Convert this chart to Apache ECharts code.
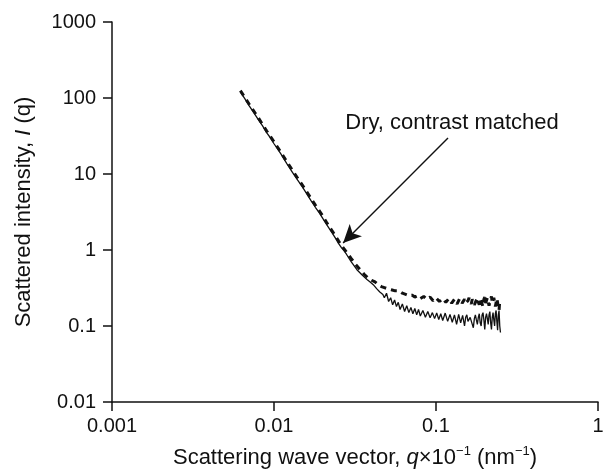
<!DOCTYPE html>
<html>
<head>
<meta charset="utf-8">
<title>Scattered intensity</title>
<script src="https://cdn.jsdelivr.net/npm/echarts@6/dist/echarts.min.js"></script>
<style>
  html, body { margin: 0; padding: 0; background: #fff; }
  #chart { width: 610px; height: 469px; }
</style>
</head>
<body>
<div id="chart"></div>
<script>
// tick labels
var xTicks = ['0.001', '0.01', '0.1', '1'];
var yTicks = ['0.01', '0.1', '1', '10', '100', '1000'];

// solid curve
var qSolid = [0.0062, 0.0066, 0.0070, 0.0075, 0.0080, 0.0085, 0.0090, 0.0095, 0.010, 0.011,
  0.012, 0.013, 0.014, 0.015, 0.016, 0.017, 0.018, 0.019, 0.020, 0.021,
  0.022, 0.023, 0.024, 0.025, 0.026, 0.027, 0.028, 0.029, 0.030, 0.0325,
  0.035, 0.0375, 0.0392, 0.041, 0.043, 0.045, 0.047, 0.048, 0.0495, 0.051,
  0.0525, 0.054, 0.0555, 0.057, 0.0585, 0.060, 0.062, 0.064, 0.066, 0.068,
  0.070, 0.072, 0.074, 0.076, 0.078, 0.080, 0.083, 0.086, 0.089, 0.092,
  0.095, 0.098, 0.101, 0.104, 0.107, 0.110, 0.114, 0.118, 0.122, 0.126,
  0.130, 0.134, 0.138, 0.142, 0.146,
  0.150, 0.1525, 0.155, 0.1575, 0.160, 0.1625, 0.165, 0.1675, 0.170, 0.1725,
  0.175, 0.1775, 0.180, 0.1825, 0.185, 0.1875, 0.190, 0.1925, 0.195, 0.1975,
  0.200, 0.2025, 0.205, 0.2075, 0.210, 0.2125, 0.215, 0.2175, 0.220, 0.2225,
  0.225, 0.2275, 0.230, 0.2325, 0.235, 0.2375, 0.240, 0.2425, 0.245, 0.2475, 0.250];
var iSolid = [120, 98, 80, 64, 52, 43, 35, 30, 25, 18.5,
  13.7, 10.5, 8.3, 6.7, 5.4, 4.4, 3.65, 3.1, 2.6, 2.2,
  1.9, 1.64, 1.42, 1.22, 1.08, 0.98, 0.88, 0.78, 0.70, 0.55,
  0.47, 0.41, 0.38, 0.35, 0.31, 0.28, 0.26, 0.235, 0.27, 0.21,
  0.235, 0.19, 0.22, 0.18, 0.205, 0.165, 0.195, 0.155, 0.185, 0.15,
  0.175, 0.145, 0.17, 0.14, 0.165, 0.135, 0.16, 0.13, 0.155, 0.128,
  0.15, 0.125, 0.148, 0.122, 0.145, 0.118, 0.148, 0.115, 0.142, 0.112,
  0.14, 0.105, 0.142, 0.11, 0.138,
  0.10, 0.13, 0.14, 0.115, 0.11, 0.13, 0.135, 0.105, 0.095, 0.125,
  0.14, 0.12, 0.105, 0.13, 0.145, 0.11, 0.10, 0.14, 0.15, 0.12,
  0.09, 0.13, 0.145, 0.125, 0.105, 0.14, 0.155, 0.11, 0.09, 0.13,
  0.15, 0.12, 0.10, 0.145, 0.16, 0.115, 0.088, 0.14, 0.16, 0.10, 0.082];

// dashed curve
var qDash = [0.0062, 0.0070, 0.0080, 0.0090, 0.010, 0.011, 0.012, 0.013, 0.014, 0.015,
  0.016, 0.017, 0.018, 0.019, 0.020, 0.021, 0.022, 0.023, 0.024, 0.025,
  0.026, 0.027, 0.028, 0.029, 0.030, 0.032, 0.034, 0.036, 0.038, 0.040,
  0.042, 0.044, 0.046, 0.048, 0.050, 0.053, 0.056, 0.059, 0.062, 0.065,
  0.068, 0.071, 0.074, 0.077, 0.080, 0.084, 0.088, 0.092, 0.096, 0.100,
  0.105, 0.110, 0.115, 0.120, 0.125, 0.130, 0.135, 0.140, 0.145,
  0.150, 0.1525, 0.155, 0.1575, 0.160, 0.1625, 0.165, 0.1675, 0.170, 0.1725,
  0.175, 0.1775, 0.180, 0.1825, 0.185, 0.1875, 0.190, 0.1925, 0.195, 0.1975,
  0.200, 0.2025, 0.205, 0.2075, 0.210, 0.2125, 0.215, 0.2175, 0.220, 0.2225,
  0.225, 0.2275, 0.230, 0.2325, 0.235, 0.2375, 0.240, 0.2425, 0.245, 0.2475, 0.250];
var iDash = [125, 84, 55, 37, 26.5, 19.5, 14.5, 11.2, 8.8, 7.1,
  5.75, 4.7, 3.9, 3.3, 2.8, 2.35, 2.0, 1.75, 1.52, 1.32,
  1.16, 1.04, 0.94, 0.85, 0.77, 0.64, 0.55, 0.48, 0.43, 0.40,
  0.38, 0.35, 0.33, 0.32, 0.31, 0.30, 0.29, 0.29, 0.27, 0.26,
  0.25, 0.255, 0.24, 0.25, 0.23, 0.245, 0.225, 0.24, 0.215, 0.235,
  0.21, 0.23, 0.205, 0.23, 0.20, 0.225, 0.195, 0.23, 0.20,
  0.225, 0.20, 0.19, 0.215, 0.235, 0.21, 0.195, 0.225, 0.22, 0.19,
  0.185, 0.22, 0.235, 0.205, 0.19, 0.225, 0.225, 0.195, 0.18, 0.225,
  0.24, 0.20, 0.19, 0.235, 0.23, 0.185, 0.175, 0.23, 0.245, 0.20,
  0.19, 0.235, 0.225, 0.18, 0.17, 0.23, 0.24, 0.18, 0.16, 0.215, 0.22];

// annotation
var noteText = 'Dry, contrast matched';
var notePos = [0.1256, 47];
var arrowFrom = [0.1186, 29.8];
var arrowTo = [0.0267, 1.24];

function pairs(xs, ys) {
  var out = [];
  for (var i = 0; i < xs.length; i++) out.push([xs[i], ys[i]]);
  return out;
}

var font = 'Liberation Sans, Arial, Helvetica, sans-serif';
var ink = '#111';

var chart = echarts.init(document.getElementById('chart'));
var option = {
  backgroundColor: '#fff',
  animation: false,
  textStyle: { fontFamily: font, color: ink },
  grid: { left: 112, right: 12, top: 22, bottom: 67, containLabel: false, outerBoundsMode: 'none' },
  xAxis: {
    type: 'log',
    logBase: 10,
    min: 0.001,
    max: 1,
    name: '{n|Scattering wave vector, }{i|q}{n|×10}{s|−1}{n| (nm}{s|−1}{n|)}',
    nameLocation: 'middle',
    nameGap: 43,
    nameTextStyle: {
      rich: {
        n: { fontSize: 22, lineHeight: 26, color: ink, fontFamily: font },
        i: { fontSize: 22, lineHeight: 26, color: ink, fontFamily: font, fontStyle: 'italic' },
        s: { fontSize: 13, lineHeight: 13, color: ink, fontFamily: font, verticalAlign: 'top' }
      }
    },
    axisLine: { lineStyle: { color: ink, width: 1.5 } },
    axisTick: { show: true, length: 9, lineStyle: { color: ink, width: 1.5 } },
    minorTick: { show: false },
    splitLine: { show: false },
    axisLabel: {
      fontSize: 20, color: ink, margin: 14,
      formatter: function (v, idx) { return xTicks[idx]; }
    }
  },
  yAxis: {
    type: 'log',
    logBase: 10,
    min: 0.01,
    max: 1000,
    name: '{n|Scattered intensity, }{i|I}{n| (q)}',
    nameLocation: 'middle',
    nameGap: 77,
    nameTextStyle: {
      rich: {
        n: { fontSize: 22, color: ink, fontFamily: font },
        i: { fontSize: 22, color: ink, fontFamily: font, fontStyle: 'italic' }
      }
    },
    axisLine: { lineStyle: { color: ink, width: 1.5 } },
    axisTick: { show: true, length: 9, lineStyle: { color: ink, width: 1.5 } },
    splitLine: { show: false },
    axisLabel: {
      fontSize: 20, color: ink, margin: 16,
      formatter: function (v, idx) { return yTicks[idx]; }
    }
  },
  series: [
    {
      name: 'solid',
      type: 'line',
      data: pairs(qSolid, iSolid),
      showSymbol: false,
      lineStyle: { color: ink, width: 1.3 },
      markLine: {
        silent: true,
        symbol: ['none', 'arrow'],
        symbolSize: [13, 18],
        label: { show: false },
        lineStyle: { color: ink, width: 1.4, type: 'solid' },
        data: [[{ coord: arrowFrom }, { coord: arrowTo }]]
      },
      markPoint: {
        silent: true,
        symbol: 'circle',
        symbolSize: 0,
        label: {
          show: true, position: 'inside', fontSize: 22, color: ink, fontFamily: font,
          formatter: noteText
        },
        data: [{ coord: notePos }]
      }
    },
    {
      name: 'dashed',
      type: 'line',
      data: pairs(qDash, iDash),
      showSymbol: false,
      lineStyle: { color: ink, width: 3, type: [6, 5] }
    }
  ]
};
chart.setOption(option);
</script>
</body>
</html>
